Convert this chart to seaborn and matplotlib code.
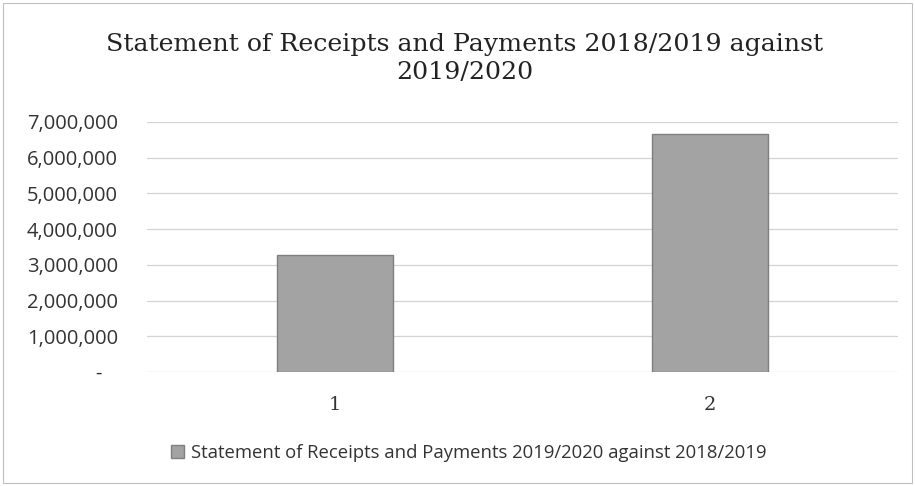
import seaborn as sns
import matplotlib.pyplot as plt
import matplotlib.patches as mpatches
from matplotlib.ticker import FuncFormatter

categories = ['1', '2']
values = [3280000, 6660000]
series_name = 'Statement of Receipts and Payments 2019/2020 against 2018/2019'
title = 'Statement of Receipts and Payments 2018/2019 against\n2019/2020'
y_ticks = [0, 1000000, 2000000, 3000000, 4000000, 5000000, 6000000, 7000000]

sns.set_theme(style='white')
plt.rcParams['font.family'] = ['Open Sans', 'DejaVu Sans']

fig = plt.figure(figsize=(9.15, 4.86), dpi=100)
ax = fig.add_axes([0.1607, 0.2346, 0.8207, 0.5144])

bar_color = '#a3a3a3'
sns.barplot(x=categories, y=values, color=bar_color, width=0.31,
            edgecolor='#7f7f7f', linewidth=1.0, saturation=1, ax=ax, zorder=3)

ax.set_ylim(0, 7000000)
ax.set_yticks(y_ticks)


def fmt(v, pos):
    if v == 0:
        return '-   '
    return f'{int(v):,}'


ax.yaxis.set_major_formatter(FuncFormatter(fmt))
ax.grid(axis='y', color='#d4d4d4', linewidth=0.9, zorder=0)
ax.grid(axis='x', visible=False)
for s in ax.spines.values():
    s.set_visible(False)
ax.tick_params(axis='y', length=0, pad=21, labelsize=14.5, labelcolor='#333333')
ax.tick_params(axis='x', length=0, pad=17, labelcolor='#333333')
for lbl in ax.get_xticklabels():
    lbl.set_fontfamily('DejaVu Serif')
    lbl.set_fontsize(14)
ax.set_xlabel('')
ax.set_ylabel('')

fig.text(0.508, 0.880, title, ha='center', va='center', fontsize=18.2,
         family='DejaVu Serif', color='#222222', linespacing=1.25)

handle = mpatches.Patch(facecolor=bar_color, edgecolor='#7f7f7f', label=series_name)
fig.legend(handles=[handle], loc='center', bbox_to_anchor=(0.512, 0.068),
           frameon=False, fontsize=13.3, handlelength=0.7, handleheight=0.7,
           handletextpad=0.4, labelcolor='#333333')

border = mpatches.Rectangle((0.003, 0.006), 0.994, 0.988, transform=fig.transFigure,
                            fill=False, edgecolor='#bfbfbf', linewidth=0.8)
fig.patches.append(border)

fig.savefig('out.png', dpi=100)
